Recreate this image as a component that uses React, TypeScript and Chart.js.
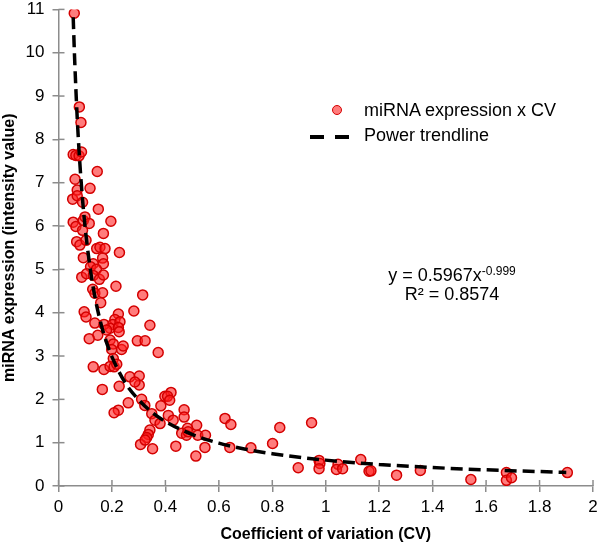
import React, { useEffect, useRef } from "react";
import { Chart, registerables } from "chart.js";

Chart.register(...registerables);

const FONT = '"Liberation Sans", Arial, Helvetica, sans-serif';

// miRNA data: coefficient of variation (x) and expression intensity (y)
const cvValues: number[] = [
  0.059, 0.078, 0.084, 0.055, 0.065, 0.077, 0.086, 0.145, 0.062, 0.118,
  0.070, 0.053, 0.070, 0.090, 0.149, 0.055, 0.065, 0.093, 0.099, 0.115,
  0.196, 0.090, 0.168, 0.068, 0.080, 0.103, 0.143, 0.155, 0.174, 0.228,
  0.093, 0.165, 0.168, 0.130, 0.120, 0.142, 0.087, 0.105, 0.130, 0.153,
  0.168, 0.215, 0.128, 0.136, 0.165, 0.315, 0.158, 0.282, 0.096, 0.103,
  0.224, 0.211, 0.203, 0.230, 0.193, 0.224, 0.227, 0.136, 0.170, 0.342,
  0.180, 0.147, 0.115, 0.295, 0.324, 0.193, 0.205, 0.199, 0.236, 0.242,
  0.373, 0.205, 0.130, 0.170, 0.193, 0.208, 0.218, 0.267, 0.302, 0.302,
  0.286, 0.227, 0.164, 0.311, 0.323, 0.261, 0.224, 0.208, 0.398, 0.421,
  0.408, 0.416, 0.383, 0.349, 0.361, 0.380, 0.411, 0.429, 0.470, 0.470,
  0.517, 0.483, 0.461, 0.479, 0.485, 0.521, 0.550, 0.342, 0.336, 0.330,
  0.307, 0.324, 0.352, 0.439, 0.514, 0.548, 0.623, 0.645, 0.641, 0.720,
  0.801, 0.828, 0.897, 0.947, 0.975, 0.978, 0.975, 1.046, 1.040, 1.063,
  1.131, 1.162, 1.169, 1.265, 1.354, 1.543, 1.676, 1.676, 1.695, 1.904,
];
const expressionValues: number[] = [
  10.91, 8.75, 8.39, 7.65, 7.63, 7.62, 7.71, 7.26, 7.08, 6.87,
  6.83, 6.62, 6.70, 6.55, 6.39, 6.09, 5.99, 6.13, 6.21, 6.06,
  6.11, 5.90, 5.83, 5.64, 5.56, 5.67, 5.48, 5.51, 5.48, 5.39,
  5.27, 5.26, 5.13, 5.13, 5.06, 5.00, 4.82, 4.90, 4.86, 4.77,
  4.87, 4.61, 4.54, 4.45, 4.46, 4.41, 4.23, 4.04, 4.02, 3.90,
  3.97, 3.84, 3.73, 3.79, 3.64, 3.66, 3.56, 3.76, 3.73, 3.71,
  3.60, 3.48, 3.40, 3.35, 3.35, 3.37, 3.28, 3.15, 3.15, 3.23,
  3.08, 2.94, 2.75, 2.69, 2.76, 2.75, 2.81, 2.52, 2.54, 2.33,
  2.40, 2.30, 2.23, 2.00, 1.86, 1.92, 1.75, 1.69, 2.07, 2.16,
  2.07, 1.98, 1.85, 1.67, 1.52, 1.44, 1.63, 1.52, 1.76, 1.59,
  1.40, 1.33, 1.22, 1.17, 1.25, 1.17, 1.17, 1.29, 1.19, 1.12,
  0.96, 1.06, 0.86, 0.92, 0.69, 0.89, 1.56, 1.42, 0.89, 0.88,
  0.98, 1.35, 0.42, 1.46, 0.59, 0.52, 0.40, 0.50, 0.38, 0.40,
  0.61, 0.34, 0.35, 0.25, 0.36, 0.15, 0.31, 0.13, 0.19, 0.31,
];

// Power trendline (y = 0.5967x^-0.999) sampled points
const trendCV: number[] = [
  0.055, 0.06, 0.07, 0.08, 0.09, 0.1, 0.12, 0.14, 0.16, 0.18, 0.2, 0.25,
  0.3, 0.35, 0.4, 0.5, 0.6, 0.7, 0.8, 1.0, 1.2, 1.4, 1.6, 1.9,
];
const trendExpr: number[] = [
  10.82, 9.92, 8.5, 7.44, 6.61, 5.95, 4.96, 4.25, 3.72, 3.31, 2.98, 2.38,
  1.99, 1.7, 1.49, 1.19, 0.99, 0.85, 0.746, 0.597, 0.497, 0.426, 0.373, 0.314,
];

const xTickValues: number[] = [0, 0.2, 0.4, 0.6, 0.8, 1, 1.2, 1.4, 1.6, 1.8, 2];
const xTickLabels: string[] = ["0", "0.2", "0.4", "0.6", "0.8", "1", "1.2", "1.4", "1.6", "1.8", "2"];
const yTickValues: number[] = [0, 1, 2, 3, 4, 5, 6, 7, 8, 9, 10, 11];
const yTickLabels: string[] = ["0", "1", "2", "3", "4", "5", "6", "7", "8", "9", "10", "11"];

const AXIS_COLOR = "#8c8c8c";
const POINT_FILL = "rgba(255, 30, 30, 0.58)";
const POINT_BORDER = "#d40000";

const innerTicks = {
  id: "innerTicks",
  beforeDatasetsDraw(chart: any) {
    const { ctx, scales, chartArea } = chart;
    const x = scales.x;
    const y = scales.y;
    ctx.save();
    ctx.strokeStyle = AXIS_COLOR;
    ctx.lineWidth = 1.5;
    xTickValues.forEach((v) => {
      const px = x.getPixelForValue(v);
      ctx.beginPath();
      ctx.moveTo(px, chartArea.bottom);
      ctx.lineTo(px, chartArea.bottom - 6);
      ctx.stroke();
    });
    yTickValues.forEach((v) => {
      const py = y.getPixelForValue(v);
      ctx.beginPath();
      ctx.moveTo(chartArea.left, py);
      ctx.lineTo(chartArea.left + 6, py);
      ctx.stroke();
    });
    ctx.restore();
  },
};

export default function App() {
  const canvasRef = useRef<HTMLCanvasElement | null>(null);

  useEffect(() => {
    document.body.style.margin = "0";
    const canvas = canvasRef.current;
    if (!canvas) return;
    const scatterData = cvValues.map((x, i) => ({ x, y: expressionValues[i] }));
    const trendData = trendCV.map((x, i) => ({ x, y: trendExpr[i] }));

    const chart = new Chart(canvas, {
      type: "scatter",
      data: {
        datasets: [
          {
            label: "Power trendline",
            data: trendData,
            showLine: true,
            borderColor: "#000",
            borderWidth: 3.5,
            borderDash: [12, 6],
            pointRadius: 0,
            cubicInterpolationMode: "monotone",
            fill: false,
            order: 0,
          } as any,
          {
            label: "miRNA expression x CV",
            data: scatterData,
            pointRadius: 5,
            pointBorderWidth: 1.5,
            backgroundColor: POINT_FILL,
            borderColor: POINT_BORDER,
            pointBackgroundColor: POINT_FILL,
            pointBorderColor: POINT_BORDER,
            order: 1,
          } as any,
        ],
      },
      options: {
        responsive: false,
        animation: false,
        layout: { padding: { top: 1, right: 1, left: 0, bottom: 0 } },
        plugins: {
          legend: { display: false },
          tooltip: { enabled: false },
        },
        scales: {
          x: {
            type: "linear",
            min: 0,
            max: 2,
            afterBuildTicks: (s: any) => {
              s.ticks = xTickValues.map((v) => ({ value: v }));
            },
            afterFit: (s: any) => {
              s.height = 58;
              s.paddingRight = 7;
              s.paddingLeft = 0;
            },
            ticks: {
              callback: (_v: any, i: number) => xTickLabels[i],
              font: { family: FONT, size: 17 },
              color: "#000",
              padding: 5,
              maxRotation: 0,
              autoSkip: false,
            },
            grid: {
              drawOnChartArea: false,
              drawTicks: true,
              tickLength: 6,
              color: AXIS_COLOR,
              lineWidth: 1.5,
            },
            border: { display: true, color: AXIS_COLOR, width: 1.5 },
            title: {
              display: true,
              text: "Coefficient of variation (CV)",
              font: { family: FONT, size: 16, weight: "bold" },
              color: "#000",
              padding: { top: 4, bottom: 0 },
            },
          },
          y: {
            type: "linear",
            min: 0,
            max: 11,
            afterBuildTicks: (s: any) => {
              s.ticks = yTickValues.map((v) => ({ value: v }));
            },
            afterFit: (s: any) => {
              s.width = 58.5;
              s.paddingTop = 9.4;
              s.paddingBottom = 0;
            },
            ticks: {
              callback: (_v: any, i: number) => yTickLabels[i],
              font: { family: FONT, size: 17 },
              color: "#000",
              padding: 8,
              autoSkip: false,
            },
            grid: {
              drawOnChartArea: false,
              drawTicks: true,
              tickLength: 6,
              color: AXIS_COLOR,
              lineWidth: 1.5,
            },
            border: { display: true, color: AXIS_COLOR, width: 1.5 },
            title: {
              display: true,
              text: "miRNA expression (intensity value)",
              font: { family: FONT, size: 16, weight: "bold" },
              color: "#000",
              padding: { top: 0, bottom: 0 },
            },
          },
        },
      } as any,
      plugins: [innerTicks],
    });
    return () => chart.destroy();
  }, []);

  const textBase: React.CSSProperties = {
    position: "absolute",
    fontFamily: FONT,
    color: "#000",
    whiteSpace: "nowrap",
  };

  return (
    <div style={{ position: "relative", width: 600, height: 544, background: "#fff" }}>
      <canvas ref={canvasRef} width={600} height={544} style={{ display: "block" }} />
      {/* Legend */}
      <div
        style={{
          position: "absolute",
          left: 332,
          top: 104.5,
          width: 10,
          height: 10,
          borderRadius: "50%",
          background: POINT_FILL,
          border: `1.5px solid ${POINT_BORDER}`,
          boxSizing: "border-box",
        }}
      />
      <div style={{ ...textBase, left: 364, top: 99, fontSize: 18, lineHeight: "22px" }}>
        miRNA expression x CV
      </div>
      <div style={{ position: "absolute", left: 310, top: 135, width: 14, height: 3.5, background: "#000" }} />
      <div style={{ position: "absolute", left: 335, top: 135, width: 14, height: 3.5, background: "#000" }} />
      <div style={{ ...textBase, left: 364, top: 124, fontSize: 18, lineHeight: "22px" }}>
        Power trendline
      </div>
      {/* Trendline equation */}
      <div
        style={{
          ...textBase,
          left: 352,
          top: 264,
          width: 200,
          textAlign: "center",
          fontSize: 18,
          lineHeight: "22px",
        }}
      >
        y = 0.5967x
        <sup style={{ fontSize: 12, verticalAlign: "6px", lineHeight: 0 }}>-0.999</sup>
      </div>
      <div
        style={{
          ...textBase,
          left: 352,
          top: 283,
          width: 200,
          textAlign: "center",
          fontSize: 18,
          lineHeight: "22px",
        }}
      >
        R² = 0.8574
      </div>
    </div>
  );
}
